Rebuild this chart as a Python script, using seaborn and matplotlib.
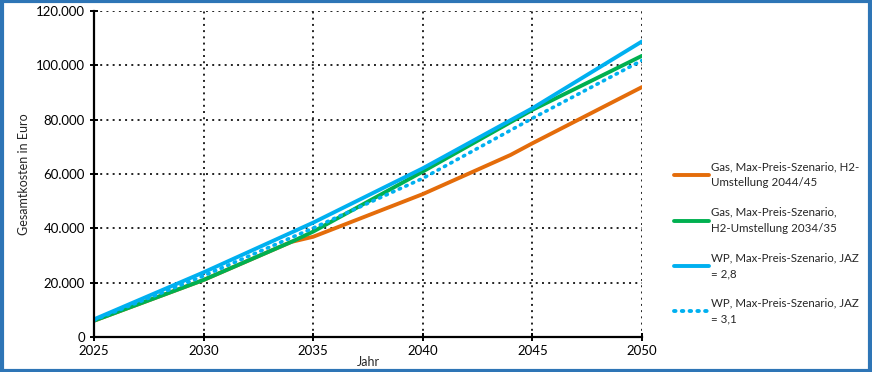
import pandas as pd
import matplotlib.pyplot as plt
import seaborn as sns
from matplotlib.patches import Rectangle

# Read-off values (Jahr -> Gesamtkosten in Euro)
years_gas44 = [2025, 2030, 2034, 2035, 2040, 2044, 2045, 2050]
gas44 = [6000, 21000, 35000, 36900, 52600, 67000, 71300, 92000]

years_gas34 = [2025, 2030, 2034, 2035, 2040, 2045, 2050]
gas34 = [6000, 21000, 35000, 38800, 60900, 83600, 103500]

years_wp28 = [2025, 2030, 2035, 2040, 2045, 2050]
wp28 = [6500, 23800, 42100, 62100, 84200, 108800]

years_wp31 = [2025, 2030, 2035, 2040, 2045, 2050]
wp31 = [6200, 22500, 40100, 58400, 80500, 101800]

labels = ["Gas, Max-Preis-Szenario, H2-\nUmstellung 2044/45",
          "Gas, Max-Preis-Szenario,\nH2-Umstellung 2034/35",
          "WP, Max-Preis-Szenario, JAZ\n= 2,8",
          "WP, Max-Preis-Szenario, JAZ\n= 3,1"]

frames = []
for lab, xs, ys in zip(labels, [years_gas44, years_gas34, years_wp28, years_wp31],
                       [gas44, gas34, wp28, wp31]):
    frames.append(pd.DataFrame({"Jahr": xs, "Kosten": ys, "Serie": lab}))
df = pd.concat(frames, ignore_index=True)

sns.set_style("white")
plt.rcParams['font.family'] = ['Lato', 'DejaVu Sans']

fig = plt.figure(figsize=(8.72, 3.72), dpi=100)
ax = fig.add_axes([94 / 872, 35 / 372, 548 / 872, 326 / 372])

palette = {labels[0]: "#E46C0A", labels[1]: "#00B050",
           labels[2]: "#00B0F0", labels[3]: "#00B0F0"}
styles = {labels[0]: "", labels[1]: "", labels[2]: "", labels[3]: (0.4, 1.6)}

sns.lineplot(data=df, x="Jahr", y="Kosten", hue="Serie", style="Serie",
             palette=palette, dashes=styles, linewidth=2.8, ax=ax,
             hue_order=labels, style_order=labels, legend=False)
# make dotted line round dots
ax.lines[3].set_dash_capstyle("round")
ax.lines[3].set_linewidth(2.6)

ax.set_xlim(2025, 2050)
ax.set_ylim(0, 120000)
ax.set_xticks([2025, 2030, 2035, 2040, 2045, 2050])
ax.set_yticks(range(0, 120001, 20000))
ax.set_yticklabels([f"{v:,}".replace(",", ".") for v in range(0, 120001, 20000)])

ax.grid(True, color="#222222", linestyle=(0, (1, 2.2)), linewidth=1.4)
for s in ["top", "right"]:
    ax.spines[s].set_visible(False)
for s in ["left", "bottom"]:
    ax.spines[s].set_color("black")
    ax.spines[s].set_linewidth(1.6)
ax.tick_params(axis="both", direction="inout", length=6, width=1.4,
               labelsize=9.5, colors="black", left=True, bottom=True)
ax.tick_params(axis="x", pad=3)

ax.set_xlabel("Jahr", fontsize=9, labelpad=-1)
ax.set_ylabel("Gesamtkosten in Euro", fontsize=9, labelpad=4)

handles = [plt.Line2D([], [], color=palette[l], linewidth=2.8,
                      linestyle=(0, (0.4, 1.6)) if i == 3 else "-",
                      dash_capstyle="round") for i, l in enumerate(labels)]
leg = fig.legend(handles, labels, loc="upper left", bbox_to_anchor=(664 / 872, 1 - 151 / 372),
                 frameon=False, fontsize=8.3, handlelength=3.0, handletextpad=0.2,
                 labelspacing=1.6)
for t in leg.get_texts():
    t.set_linespacing(1.55)

fig.patches.append(Rectangle((0.002, 0.004), 0.996, 0.992, transform=fig.transFigure,
                             fill=False, edgecolor="#2E75B6", linewidth=3))

fig.savefig("out.png", dpi=100)
